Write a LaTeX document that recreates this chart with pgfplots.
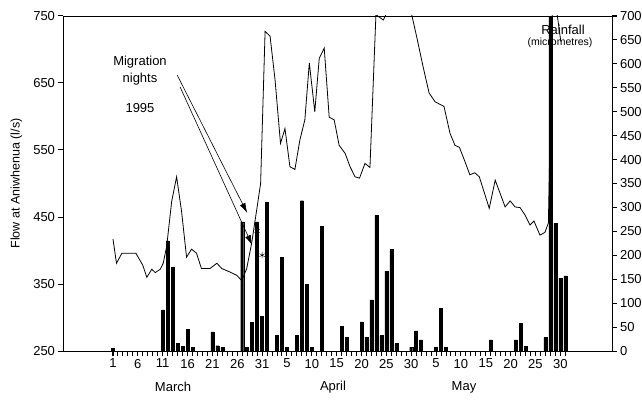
\documentclass[border=0pt]{standalone}
\usepackage{fontspec}
\setmainfont{Liberation Sans}
\usepackage{pgfplots}
\pgfplotsset{compat=1.18}
\usetikzlibrary{arrows.meta}

\pgfplotsset{
  common/.style={
    at={(0pt,0pt)}, anchor=south west,
    width=549pt, height=335pt, scale only axis,
    xmin=-9.06, xmax=101.4,
    tick align=outside,
    major tick length=4.5pt, minor tick length=4.5pt,
    tick style={black, line width=1pt},
    axis line style={line width=0.8pt},
    ticklabel style={font=\fontsize{13}{13}\selectfont},
    /pgf/number format/assume math mode=true,
  }
}

\begin{document}
\begin{tikzpicture}
\path[use as bounding box] (-63pt,-48pt) rectangle (579pt,351pt);

\begin{axis}[
  common,
  ymin=0, ymax=700,
  axis y line*=right, axis x line=none,
  ytick={0,50,...,700},
  ybar, bar width=3pt,
]
\addplot[fill=black, draw=black] coordinates {
(1,6) (11,86) (12,230) (13,175) (14,16) (15,9) (16,45) (17,8)
(21,40) (22,11) (23,7) (27,270) (28,8) (29,60) (30,270) (31,72) (32,310)
(34,32) (35,196) (36,8) (38,32) (39,314) (40,140) (41,8) (43,260)
(47,52) (48,28) (51,61) (52,29) (53,107) (54,284) (55,32) (56,167) (57,212) (58,16)
(61,8) (62,42) (63,23) (66,7) (67,89) (68,7) (77,23) (82,23) (83,58) (84,9)
(88,28) (89,700) (90,267) (91,152) (92,157)
};
\end{axis}

\begin{axis}[
  common,
  ymin=250, ymax=750,
  ytick={250,350,...,750},
  ytick pos=left,
  xtick pos=bottom,
  xtick={1,6,...,91},
  xticklabels={1,6,11,16,21,26,31,5,10,15,20,25,30,5,10,15,20,25,30},
  minor xtick={2,3,4,5,7,8,9,10,12,13,14,15,17,18,19,20,22,23,24,25,27,28,29,30,32,33,34,35,37,38,39,40,42,43,44,45,47,48,49,50,52,53,54,55,57,58,59,60,62,63,64,65,67,68,69,70,72,73,74,75,77,78,79,80,82,83,84,85,87,88,89,90,92},
  ylabel={Flow at Aniwhenua (l/s)},
  ylabel style={font=\fontsize{12.5}{12.5}\selectfont, at={(axis description cs:-0.085,0.5)}, anchor=center},
]
\addplot[black, line width=0.8pt, mark=none] coordinates {
(1,417) (1.7,381) (2.8,396) (5.6,396) (7,378) (7.8,360) (8.8,372) (9.5,367)
(10.5,372) (11.1,381) (11.8,406) (12.8,473) (13.8,510) (14.8,458) (15.8,390)
(16.8,402) (17.8,396) (18.8,373) (20.5,373) (21.9,381) (22.9,373) (24.5,368)
(25.9,363) (26.9,355) (27.9,373) (28.9,411) (29.9,460) (30.7,500) (31.6,727)
(32.6,720) (33.6,655) (34.7,560) (35.6,582) (36.6,525) (37.6,521) (38.6,565)
(39.6,595) (40.5,680) (41.6,607) (42.5,687) (43.5,702) (44.5,599) (45.5,595)
(46.5,557) (47.7,545) (48.7,525) (49.7,510) (50.6,508) (51.7,530) (52.7,524)
(53.9,752) (55.4,744) (57,770) (59,770) (61.1,752) (62.1,719) (63.4,674)
(64.6,635) (65.8,622) (67.6,615) (68.8,575) (69.8,557) (70.7,554) (71.8,533)
(72.8,513) (73.8,516) (74.7,510) (76.7,463) (77.9,505) (79.9,465) (80.9,474)
(81.9,465) (82.9,464) (83.9,453) (84.9,438) (85.7,444) (86.9,423) (87.9,427)
(88.6,441) (89.5,800) (91.1,712)
};
\addplot[only marks, mark=asterisk, mark size=3pt, black] coordinates {(30,429) (31,393)};
\draw[line width=0.6pt, -{Latex[length=10pt,width=6pt]}] (axis cs:13.9,662) -- (axis cs:28,456);
\draw[line width=0.6pt, -{Latex[length=10pt,width=6pt]}] (axis cs:14.5,644) -- (axis cs:29,408);
\end{axis}

% tick marks as thin filled rectangles (axis frame at origin, 549pt x 335pt)
\foreach \d in {1,...,92}{
  \pgfmathsetmacro{\tx}{(\d+9.06)*4.9701}
  \fill[black] (\tx pt-0.5pt,0.4pt) rectangle (\tx pt+0.5pt,-4.5pt);
}
\foreach \k in {0,...,5}{
  \pgfmathsetmacro{\ty}{\k*67}
  \fill[black] (0.4pt,\ty pt-0.5pt) rectangle (-4.5pt,\ty pt+0.5pt);
}
\foreach \k in {0,...,14}{
  \pgfmathsetmacro{\ty}{\k*23.9286}
  \fill[black] (548.6pt,\ty pt-0.5pt) rectangle (553.5pt,\ty pt+0.5pt);
}

\node[font=\fontsize{13}{13}\selectfont] at (77pt,289pt) {Migration};
\node[font=\fontsize{13}{13}\selectfont] at (77pt,272pt) {nights};
\node[font=\fontsize{13}{13}\selectfont] at (77pt,243pt) {1995};
\node[font=\fontsize{13}{13}\selectfont] at (500pt,321pt) {Rainfall};
\node[font=\fontsize{10.5}{10.5}\selectfont] at (497pt,308pt) {(micrometres)};
\node[font=\fontsize{13}{13}\selectfont] at (110pt,-36pt) {March};
\node[font=\fontsize{13}{13}\selectfont] at (270pt,-36pt) {April};
\node[font=\fontsize{13}{13}\selectfont] at (401pt,-36pt) {May};
\end{tikzpicture}
\end{document}
